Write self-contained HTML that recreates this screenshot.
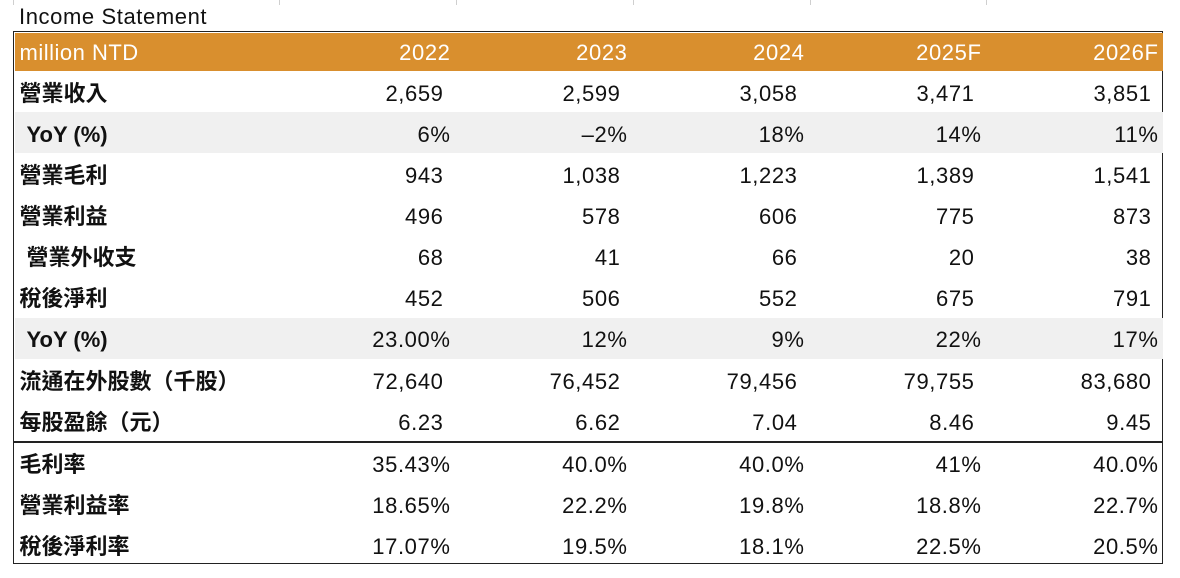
<!DOCTYPE html>
<html>
<head>
<meta charset="utf-8">
<style>
  html,body{margin:0;padding:0;background:#fff;}
  body{width:1180px;height:578px;position:relative;overflow:hidden;
       font-family:"Liberation Sans","Noto Sans CJK TC",sans-serif;color:#111;}
  .grid{position:absolute;top:0;width:1px;height:5px;background:#cfcfcf;}
  .title{position:absolute;left:19px;top:4px;font-size:22px;letter-spacing:0.6px;line-height:26px;color:#111;}
  .tbl{position:absolute;left:13px;top:31px;width:1148px;height:531px;border:1.5px solid #222;}
  .row{position:absolute;left:14.5px;width:1148px;}
  .hdr{background:#D98F2E;color:#fff;}
  .gray{background:#F0F0F0;}
  .lab{position:absolute;left:5px;top:1.5px;font-weight:bold;font-size:22px;
       font-family:"Liberation Sans","Noto Sans CJK TC",sans-serif;white-space:nowrap;}
  .hdr .lab{font-weight:normal;letter-spacing:0.5px;top:1px;}
  .v{position:absolute;top:1.5px;font-size:22px;letter-spacing:0.6px;white-space:nowrap;text-align:right;width:150px;}
  .hdr .v{top:1px;}
  .sep{position:absolute;left:14px;width:1149px;height:1.5px;background:#222;}
</style>
</head>
<body>
  <div class="grid" style="left:13px"></div>
  <div class="grid" style="left:279px"></div>
  <div class="grid" style="left:456px"></div>
  <div class="grid" style="left:633px"></div>
  <div class="grid" style="left:810px"></div>
  <div class="grid" style="left:986px"></div>

  <div class="title">Income Statement</div>

  <div class="tbl"></div>

  <!-- header -->
  <div class="row hdr" style="top:32.5px;height:38.5px;line-height:38.5px;">
    <div class="lab">million NTD</div>
    <div class="v" style="left:286px">2022</div>
    <div class="v" style="left:463px">2023</div>
    <div class="v" style="left:640px">2024</div>
    <div class="v" style="left:817px">2025F</div>
    <div class="v" style="left:994px">2026F</div>
  </div>

  <!-- row 1 -->
  <div class="row" style="top:71px;height:41px;line-height:41px;">
    <div class="lab">營業收入</div>
    <div class="v" style="left:279px">2,659</div>
    <div class="v" style="left:456px">2,599</div>
    <div class="v" style="left:633px">3,058</div>
    <div class="v" style="left:810px">3,471</div>
    <div class="v" style="left:987px">3,851</div>
  </div>

  <!-- row 2 -->
  <div class="row gray" style="top:112px;height:41px;line-height:41px;">
    <div class="lab" style="left:12px">YoY (%)</div>
    <div class="v" style="left:286px">6%</div>
    <div class="v" style="left:463px">–2%</div>
    <div class="v" style="left:640px">18%</div>
    <div class="v" style="left:817px">14%</div>
    <div class="v" style="left:994px">11%</div>
  </div>

  <!-- row 3 -->
  <div class="row" style="top:153px;height:41px;line-height:41px;">
    <div class="lab">營業毛利</div>
    <div class="v" style="left:279px">943</div>
    <div class="v" style="left:456px">1,038</div>
    <div class="v" style="left:633px">1,223</div>
    <div class="v" style="left:810px">1,389</div>
    <div class="v" style="left:987px">1,541</div>
  </div>

  <!-- row 4 -->
  <div class="row" style="top:194px;height:41px;line-height:41px;">
    <div class="lab">營業利益</div>
    <div class="v" style="left:279px">496</div>
    <div class="v" style="left:456px">578</div>
    <div class="v" style="left:633px">606</div>
    <div class="v" style="left:810px">775</div>
    <div class="v" style="left:987px">873</div>
  </div>

  <!-- row 5 -->
  <div class="row" style="top:235px;height:41px;line-height:41px;">
    <div class="lab" style="left:12px">營業外收支</div>
    <div class="v" style="left:279px">68</div>
    <div class="v" style="left:456px">41</div>
    <div class="v" style="left:633px">66</div>
    <div class="v" style="left:810px">20</div>
    <div class="v" style="left:987px">38</div>
  </div>

  <!-- row 6 -->
  <div class="row" style="top:276px;height:41px;line-height:41px;">
    <div class="lab">稅後淨利</div>
    <div class="v" style="left:279px">452</div>
    <div class="v" style="left:456px">506</div>
    <div class="v" style="left:633px">552</div>
    <div class="v" style="left:810px">675</div>
    <div class="v" style="left:987px">791</div>
  </div>

  <!-- row 7 -->
  <div class="row gray" style="top:317.5px;height:41.5px;line-height:41.5px;">
    <div class="lab" style="left:12px">YoY (%)</div>
    <div class="v" style="left:286px">23.00%</div>
    <div class="v" style="left:463px">12%</div>
    <div class="v" style="left:640px">9%</div>
    <div class="v" style="left:817px">22%</div>
    <div class="v" style="left:994px">17%</div>
  </div>

  <!-- row 8 -->
  <div class="row" style="top:359px;height:41px;line-height:41px;">
    <div class="lab">流通在外股數（千股）</div>
    <div class="v" style="left:279px">72,640</div>
    <div class="v" style="left:456px">76,452</div>
    <div class="v" style="left:633px">79,456</div>
    <div class="v" style="left:810px">79,755</div>
    <div class="v" style="left:987px">83,680</div>
  </div>

  <!-- row 9 -->
  <div class="row" style="top:400px;height:41px;line-height:41px;">
    <div class="lab">每股盈餘（元）</div>
    <div class="v" style="left:279px">6.23</div>
    <div class="v" style="left:456px">6.62</div>
    <div class="v" style="left:633px">7.04</div>
    <div class="v" style="left:810px">8.46</div>
    <div class="v" style="left:987px">9.45</div>
  </div>

  <div class="sep" style="top:441px;"></div>

  <!-- row 10 -->
  <div class="row" style="top:442px;height:41px;line-height:41px;">
    <div class="lab">毛利率</div>
    <div class="v" style="left:286px">35.43%</div>
    <div class="v" style="left:463px">40.0%</div>
    <div class="v" style="left:640px">40.0%</div>
    <div class="v" style="left:817px">41%</div>
    <div class="v" style="left:994px">40.0%</div>
  </div>

  <!-- row 11 -->
  <div class="row" style="top:483px;height:41px;line-height:41px;">
    <div class="lab">營業利益率</div>
    <div class="v" style="left:286px">18.65%</div>
    <div class="v" style="left:463px">22.2%</div>
    <div class="v" style="left:640px">19.8%</div>
    <div class="v" style="left:817px">18.8%</div>
    <div class="v" style="left:994px">22.7%</div>
  </div>

  <!-- row 12 -->
  <div class="row" style="top:524px;height:40px;line-height:41px;">
    <div class="lab">稅後淨利率</div>
    <div class="v" style="left:286px">17.07%</div>
    <div class="v" style="left:463px">19.5%</div>
    <div class="v" style="left:640px">18.1%</div>
    <div class="v" style="left:817px">22.5%</div>
    <div class="v" style="left:994px">20.5%</div>
  </div>
</body>
</html>
